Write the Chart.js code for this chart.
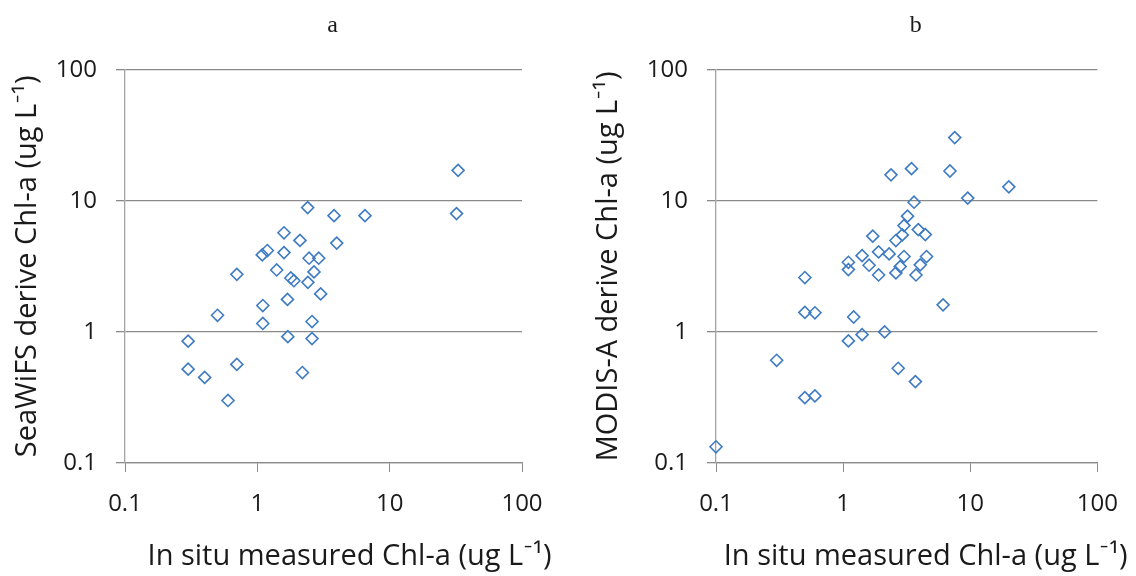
<!DOCTYPE html>
<html>
<head>
<meta charset="utf-8">
<script src="https://cdn.jsdelivr.net/npm/chart.js@4"></script>
<style>
  html, body { margin: 0; padding: 0; background: #fff; }
  #wrap { position: relative; width: 1136px; height: 576px; }
  #wrap canvas { position: absolute; top: 0; }
</style>
</head>
<body>
<div id="wrap">
  <canvas id="panelA" width="568" height="576" style="left:0"></canvas>
  <canvas id="panelB" width="568" height="576" style="left:568px"></canvas>
</div>
<script>
// log axes only carry the decades
const decadeTicks = [0.1, 1, 10, 100];
const panelLetters = ['a', 'b'];
const xAxisTitle = 'In situ measured Chl-a (ug L\u207B\u00B9)';
const yAxisTitles = ['SeaWiFS derive Chl-a (ug L\u207B\u00B9)', 'MODIS-A derive Chl-a (ug L\u207B\u00B9)'];

// a: SeaWiFS vs in situ
const seawifsInSitu = [2.40, 3.80, 6.51, 1.59, 2.10, 3.98, 1.19, 1.09, 1.59, 2.46, 2.91,
  0.70, 1.40, 2.68, 1.79, 1.89, 2.41, 3.01, 1.69, 0.50, 1.10, 1.10, 2.59,
  0.30, 1.70, 2.59, 0.30, 0.40, 0.70, 0.60, 2.19, 32.9, 32.0];
const seawifsChl = [8.89, 7.71, 7.71, 5.71, 4.99, 4.76, 4.18, 3.87, 4.03, 3.65, 3.65,
  2.75, 2.97, 2.87, 2.58, 2.46, 2.39, 1.95, 1.77, 1.34, 1.59, 1.16, 1.20,
  0.85, 0.92, 0.89, 0.52, 0.45, 0.565, 0.30, 0.49, 17.1, 8.0];

// b: MODIS-Aqua vs in situ
const modisInSitu = [2.38, 1.71, 1.41, 1.90, 2.30, 1.10, 1.10, 1.60, 1.90, 0.50, 0.50,
  0.60, 1.21, 2.60, 7.55, 3.45, 6.92, 20.1, 9.55, 3.61, 3.21, 3.01, 2.92,
  3.90, 4.43, 3.01, 4.53, 4.04, 2.81, 2.60, 3.74, 6.11, 2.12, 1.41, 1.10,
  0.30, 2.71, 3.70, 0.50, 0.60, 0.10];
const modisChl = [15.8, 5.38, 3.82, 4.08, 3.94, 3.40, 2.99, 3.23, 2.72, 2.60, 1.41,
  1.40, 1.30, 4.98, 30.4, 17.6, 16.9, 12.8, 10.5, 9.77, 7.64, 6.48, 5.50,
  6.04, 5.53, 3.76, 3.76, 3.25, 3.15, 2.82, 2.72, 1.61, 1.00, 0.953, 0.854,
  0.608, 0.528, 0.418, 0.315, 0.325, 0.133];

const MARKER = '#3f7bc3';
const GRID = '#8a8a8a';
const TEXT = '#1a1a1a';
const SANS = '"Open Sans", Lato, sans-serif';
const pad = n => ' '.repeat(n);

// x-axis caption sits a little right of the plot centre, which the
// built-in scale title can't do, so it is drawn here instead
const xCaption = {
  id: 'xCaption',
  afterDraw(chart, args, opts) {
    const { ctx, chartArea } = chart;
    ctx.save();
    ctx.font = `${opts.size}px ${SANS}`;
    ctx.fillStyle = TEXT;
    ctx.textAlign = 'center';
    ctx.textBaseline = 'middle';
    ctx.fillText(opts.text, (chartArea.left + chartArea.right) / 2 + opts.dx, chart.height - opts.bottom);
    ctx.restore();
  },
};

function pairs(xs, ys) {
  return xs.map((x, i) => ({ x, y: ys[i] }));
}

function decadeAxis() {
  return {
    type: 'logarithmic',
    min: decadeTicks[0],
    max: decadeTicks[decadeTicks.length - 1],
    afterBuildTicks: axis => { axis.ticks = decadeTicks.map(v => ({ value: v })); },
  };
}

function drawPanel(id, opts) {
  const ctx = document.getElementById(id).getContext('2d');
  return new Chart(ctx, {
    type: 'scatter',
    plugins: [xCaption],
    data: {
      datasets: [{
        data: pairs(opts.xs, opts.ys),
        pointStyle: 'rectRot',
        pointRadius: 6,
        pointBorderWidth: 1.6,
        pointBorderColor: MARKER,
        pointBackgroundColor: 'rgba(255,255,255,0)',
        clip: false,
      }],
    },
    options: {
      responsive: false,
      animation: false,
      events: [],
      layout: { padding: { left: 0, right: opts.padRight, top: 0, bottom: 0 } },
      plugins: {
        legend: { display: false },
        tooltip: { enabled: false },
        title: {
          display: true,
          fullSize: false,
          text: pad(3) + opts.letter,
          color: TEXT,
          font: { family: '"Liberation Serif", "DejaVu Serif", serif', size: 24, weight: 'normal' },
          padding: { top: 11, bottom: 30 },
        },
        xCaption: { text: xAxisTitle, size: 29, dx: opts.captionShift, bottom: 19 },
      },
      scales: {
        x: {
          ...decadeAxis(),
          afterFit: s => { s.height = 113; },
          grid: { drawOnChartArea: false, drawTicks: true, tickLength: 9, tickColor: GRID },
          border: { display: true, color: GRID, width: 1.3 },
          ticks: {
            color: TEXT, padding: 18, maxRotation: 0,
            font: { family: SANS, size: 24 },
            callback: v => String(v),
          },
        },
        y: {
          ...decadeAxis(),
          afterFit: s => { s.width = opts.yWidth; },
          grid: { color: GRID, lineWidth: 1.3, tickLength: 9, tickColor: GRID },
          border: { display: true, color: '#a3a3a3', width: 1.3 },
          ticks: {
            color: TEXT, padding: 19,
            font: { family: SANS, size: 24 },
            callback: v => String(v),
          },
          title: {
            display: true,
            text: opts.yTitle,
            color: TEXT,
            font: { family: SANS, size: 29 },
            padding: { top: opts.yTitlePad, bottom: 0 },
          },
        },
      },
    },
  });
}

drawPanel('panelA', {
  letter: panelLetters[0], xs: seawifsInSitu, ys: seawifsChl, yTitle: yAxisTitles[0],
  yWidth: 125, yTitlePad: 10, padRight: 46, captionShift: 26,
});
drawPanel('panelB', {
  letter: panelLetters[1], xs: modisInSitu, ys: modisChl, yTitle: yAxisTitles[1],
  yWidth: 148, yTitlePad: 23, padRight: 27, captionShift: 19,
});
</script>
</body>
</html>
